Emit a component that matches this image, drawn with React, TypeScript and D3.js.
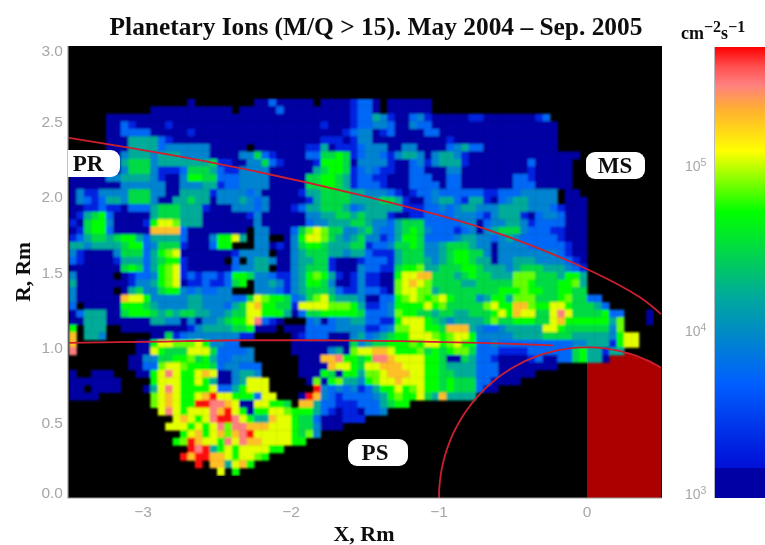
import React from "react";
import * as d3 from "d3";

const titleText = "Planetary Ions (M/Q > 15). May 2004 \u2013 Sep. 2005";
const xTicks = [-3, -2, -1, 0];
const yTicks = [0, 0.5, 1, 1.5, 2, 2.5, 3];
const cbTicks = [3, 4, 5];

// flux (cm^-2 s^-1) per map level; "." = no data
const levelKeys = "0123456789ab";
const levelFlux = [1.3e3, 2.1e3, 5.6e3, 8.9e3, 1.7e4, 3.2e4, 5.4e4, 7.6e4, 1.15e5, 2e5, 3.2e5, 5.2e5];

// colour bar stops: log10(flux) -> colour
const cbLogs = [3.0, 3.179, 3.18, 3.3, 3.7, 4.22, 4.73, 5.1, 5.35, 5.5, 5.61, 5.73];
const cbColors = ["#0000a4", "#0000a4", "#0010d8", "#0020e0", "#0060ff", "#00aa9c", "#00ff00", "#ffff00", "#ffb030", "#ff8080", "#ff5050", "#ff0000"];

// rows from R = 2.65 downward, 0.05 Rm cells, columns from X = -3.5
const firstRow = 7;
const fluxRows: string[] = [
"..........|......0...|.....00200|000.000012|20.000000.",
"..........|.000000000|00.0000020|0000000012|20.000000.",
".....00000|0000000000|0000000000|0000000012|2431002310|0000110000|00012.....",
".....00210|0001000000|0000000000|0000100012|2332003220|0000000000|000000....",
".....00222|2000001000|0000000000|0000000123|3012000022|0000000000|000000....",
".....00044|4421000000|0000000000|0000111013|3000000000|0100000000|000000....",
".....00044|4423333330|0000.00000|0011401112|3330033000|0234220000|000000....",
".....00344|4344433330|0003352100|0022556512|3321344303|4431000000|000000000.",
".....00455|5344444445|1100335210|0001666503|3331002313|4441000000|00200000..",
".....00355|5311125554|2113333000|0004566512|3211002200|0330000000|00100000..",
"0000033444|4310036655|2223333000|0055665412|2110002220|0220000000|22100000..",
"0000000333|3330033344|1223333000|0055665412|2210002222|0220000000|22200000..",
"0311333355|5330044441|3333230000|0144555544|3332101223|2222221122|233333.00.",
"0321244355|5300445440|3334323000|0014555544|4455410023|4421441023|443333.000",
"0011211022|2455544410|0033323000|1244555423|4444411122|3234433344|4433321000",
"0145620000|0455544400|0000130000|0033445545|4441001122|2233321344|4102332000",
"1056630000|1688744400|0000030000|0023344455|4332455522|2223302334|4312222000",
"0156620000|0999920000|0000.33000|2578755334|5322456532|2212303455|5322211000",
"1245545664|2444420003|6684.33..0|3688754345|3312466522|2234433234|3222221000",
"4434444566|2355510002|66...33010|3566544455|1223556533|4555433033|3322222100",
"3100003555|2467800000|0013333.00|3455544344|2111455533|4566553033|3333332100",
"2100001444|2456610000|0.2.344300|3445510001|2221455543|4566544033|4443333210",
"0000000565|2467810000|0023344.00|3455510003|2211566744|5556654443|4555444321",
"300000.012|2367812122|1266533211|3467641013|1100688995|5545655444|7775554664",
"4000000013|3467801121|1256.33431|3466530013|1100789875|5554455555|7765556674",
"300000.045|3356632322|33...33321|3455542113|2210788774|5555555566|6766556655",
"3000000988|6333334433|3322587665|2357854443|0022678767|8655534664|7775556755|22........",
"2.00000666|5433334433|3245896655|1888877764|1123666686|7555557866|9976688655|542.......",
"0244400566|6545455443|3455886664|0255666665|2223766554|5544555686|988558a855|55622...0.",
"0044400000|0443303033|45668a210.|..23023344|2211688865|4344445755|6665589666|66647...0.",
"6.444..000|0000001344|44556000.0|0022223333|1123778866|5999432234|4444886555|55537.....",
"9.443.....|.005123333|33311.....|0122200034|2345668887|6788633333|4444555544|4443688...",
"9........0|0688777863|322.......|0000000053|4556667688|6786622322|2222222233|4441688...",
"a........0|0865558885|22223.....|0000034078|8998666756|5677522211|1122222256|44144.....",
"........00|3355667564|22333.....|.00099a665|6aa9888866|5005422100|0012002256|440.......",
"........00|2278876665|233222....|.000098865|8899988866|5444422200|000000....",
"0..000...0|068a866898|003443....|.000650664|7789998866|5544422200|000.......",
"0000000...|.688866864|0034888...|..07067443|6788988866|5655522000|0.........",
"00.0000...|048a866668|2246888...|...b323231|2466867866|56555200..",
"0000......|.78986689b|88666288..|.0b9321222|2346766854|94444.....",
"..........|.789866bba|a980088665|.994221112|224566....",
"..........|..8a86888a|9b86066887|6664210110|223.......",
"..........|....89868a|bba8644988|6552000111",
"..........|...8886868|a7aa999888|6553000...",
"..........|.....68968|979ab88888|6573......",
"..........|....67b988|6a8a998888|66........",
"..........|......bab4|686888866.",
"..........|.....b9bb9|9868876...",
"..........|.......b.9|94896.....",
"..........|..........|8.6.......",
];

// boundary curves
const mpX = [-3.5, -2.5, -1.53, -0.7, 0.02, 0.36, 0.5];
const mpR = [2.39, 2.22, 2.01, 1.79, 1.51, 1.33, 1.22];
const ibX = [-3.5, -2.95, -2.35, -1.55, -0.74, -0.23];
const ibR = [1.03, 1.037, 1.047, 1.045, 1.03, 1.013];

const x = d3.scaleLinear().domain([-3.5, 0.5]).range([69, 661]);
const y = d3.scaleLinear().domain([0, 3]).range([498, 46]);
const cbY = d3.scaleLinear().domain([3, 5.73]).range([498, 47]);
const colorOf = d3.scaleLinear<string>().domain(cbLogs).range(cbColors).clamp(true);

const CELL = 0.05;
const SERIF = "'Liberation Serif', serif";
const SANS = "'Liberation Sans', sans-serif";
const TICK = "#a6a6a6";
const RED = "#cc2030";

const curve = d3.line<[number, number]>().x((d) => x(d[0])).y((d) => y(d[1])).curve(d3.curveCatmullRom);
const pairs = (a: number[], b: number[]) => a.map((v, i) => [v, b[i]] as [number, number]);

// unit circle of the planet
const circleDeg = d3.range(180, 59.9, -2);
const circlePts = circleDeg.map((a) => [Math.cos((a * Math.PI) / 180), Math.sin((a * Math.PI) / 180)] as [number, number]);
const planetPts = circlePts.filter((p) => p[0] >= -1e-6);
const planetPath =
  "M" + x(0) + "," + y(0) + planetPts.map((p) => "L" + x(p[0]) + "," + y(p[1])).join("") + "L" + x(0.5) + "," + y(0) + "Z";

const cells = fluxRows.flatMap((row, i) => {
  const s = row.replace(/\|/g, "");
  const r = firstRow + i;
  return Array.from(s).flatMap((ch, c) => {
    const k = levelKeys.indexOf(ch);
    if (k < 0) return [];
    return [{ r, c, flux: levelFlux[k] }];
  });
});

function Label({ x: lx, y: ly, w, text, cx, flat }: { x: number; y: number; w: number; text: string; cx: number; flat?: boolean }) {
  const h = 27;
  return (
    <g>
      <rect x={lx} y={ly} width={w} height={h} rx={9} ry={9} fill="#fff" />
      {flat && <rect x={lx} y={ly} width={12} height={h} fill="#fff" />}
      <text x={cx} y={ly + h / 2 + 7.5} textAnchor="middle" fontFamily={SERIF} fontWeight="bold" fontSize={23} fill="#111" filter="url(#softT)">
        {text}
      </text>
    </g>
  );
}

export default function App() {
  return (
    <svg width={765} height={545} style={{ position: "absolute", left: 0, top: 0, display: "block", background: "#fff" }}>
      <defs>
        <filter id="soft" x="0" y="0" width="1" height="1">
          <feGaussianBlur stdDeviation="0.85" />
        </filter>
        <filter id="softT">
          <feGaussianBlur stdDeviation="0.35" />
        </filter>
        <clipPath id="plot">
          <rect x={68} y={46} width={594} height={452} />
        </clipPath>
        <linearGradient id="cbGrad" gradientUnits="userSpaceOnUse" x1={0} x2={0} y1={cbY(3)} y2={cbY(5.73)}>
          {cbLogs.map((l, i) => (
            <stop key={l} offset={(l - 3) / 2.73} stopColor={cbColors[i]} />
          ))}
        </linearGradient>
      </defs>
      <text x={376} y={35} textAnchor="middle" fontFamily={SERIF} fontWeight="bold" fontSize={25.4} fill="#111" filter="url(#softT)">
        {titleText}
      </text>

      <rect x={68} y={46} width={594} height={452} fill="#000" />
      <path d={planetPath} fill="#aa0000" />
      <g filter="url(#soft)" clipPath="url(#plot)">
        {cells.map((d) => (
          <rect
            key={d.r + "-" + d.c}
            x={x(-3.5 + d.c * CELL)}
            y={y(3 - d.r * CELL)}
            width={x(CELL) - x(0) + 0.4}
            height={y(0) - y(CELL) + 0.4}
            fill={colorOf(Math.log10(d.flux))}
          />
        ))}
      </g>
      <g clipPath="url(#plot)" fill="none" stroke={RED} strokeWidth={1.8}>
        <path d={curve(pairs(mpX, mpR)) as string} />
        <path d={curve(pairs(ibX, ibR)) as string} />
        <path d={curve(circlePts) as string} />
      </g>
      <path d={`M68,46V498H662`} fill="none" stroke="#9a9a9a" strokeWidth={1.2} />

      <Label x={68} y={150} w={52} text="PR" cx={88} flat />
      <Label x={586} y={152} w={59} text="MS" cx={615} />
      <Label x={348} y={439} w={60} text="PS" cx={375} />

      <g fontFamily={SANS} fontSize={15.5} fill={TICK} filter="url(#softT)">
        {yTicks.map((t) => (
          <text key={t} x={63} y={Math.min(Math.max(y(t), 50), 492) + 5.5} textAnchor="end">
            {t.toFixed(1)}
          </text>
        ))}
        {xTicks.map((t) => (
          <text key={t} x={x(t)} y={517} textAnchor="middle">
            {t < 0 ? "\u2212" + Math.abs(t) : t}
          </text>
        ))}
      </g>
      <text x={364} y={541} textAnchor="middle" fontFamily={SERIF} fontWeight="bold" fontSize={22} fill="#111" filter="url(#softT)">
        X, Rm
      </text>
      <text transform="translate(30,272) rotate(-90)" textAnchor="middle" fontFamily={SERIF} fontWeight="bold" fontSize={21.5} fill="#111" filter="url(#softT)">
        R, Rm
      </text>

      <rect x={715} y={47} width={50} height={451} fill="url(#cbGrad)" />
      <path d="M714.5,47V498" stroke="#b9b9c0" strokeWidth={1} />
      <g fontFamily={SANS} fill={TICK} filter="url(#softT)">
        {cbTicks.map((t) => (
          <text key={t} x={685} y={Math.min(cbY(t), 491) + 3 + (t === 3 ? 5 : 0)} fontSize={14}>
            10
            <tspan dy={-5} fontSize={10.5}>
              {t}
            </tspan>
          </text>
        ))}
      </g>
      <text x={681} y={39} fontFamily={SERIF} fontWeight="bold" fontSize={18} fill="#111" filter="url(#softT)">
        cm
        <tspan dy={-7.5} fontSize={16}>
          {"\u22122"}
        </tspan>
        <tspan dy={7.5}>s</tspan>
        <tspan dy={-7.5} fontSize={16}>
          {"\u22121"}
        </tspan>
      </text>
    </svg>
  );
}
